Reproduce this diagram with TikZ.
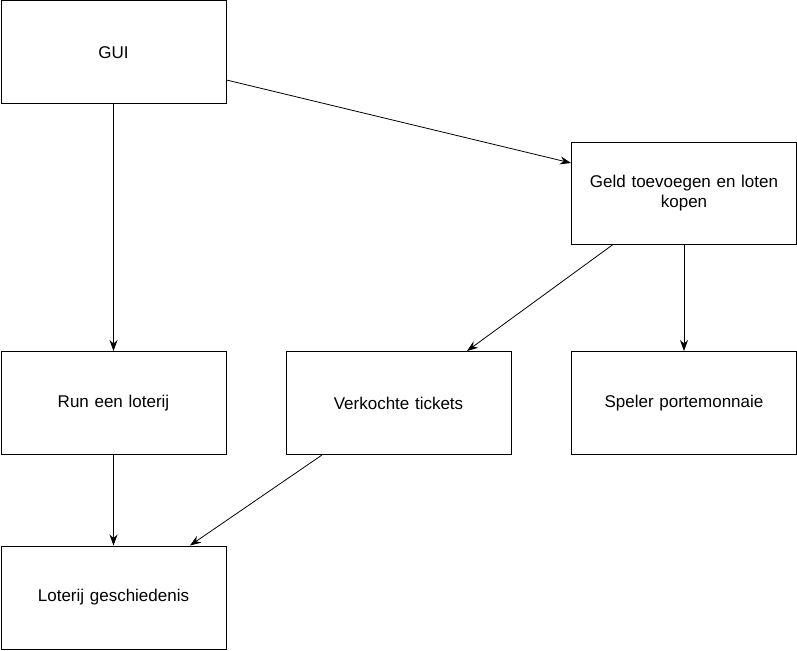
\documentclass[tikz,border=0pt]{standalone}
\usepackage{fontspec}
\setmainfont{Liberation Sans}
\usepackage{tikz}
\usetikzlibrary{arrows.meta, positioning, calc}

\tikzset{
  blok/.style={draw=black, line width=1pt, minimum width=225pt, minimum height=103pt,
    text width=212pt, align=center, inner sep=0pt, font=\fontsize{17}{20}\selectfont},
  pijl/.style={-{Stealth[length=11pt, width=8pt]}, line width=0.8pt}
}

\begin{document}
\begin{tikzpicture}[x=1pt, y=-1pt]
  \useasboundingbox (0,0) rectangle (797,650);

  \node[blok] (gui) at (113.5,52.5) {GUI};
  \node[blok, minimum height=102pt] (geld) at (684,193) {Geld toevoegen en loten\\kopen};
  \node[blok] (run) at (113.5,403) {Run een loterij};
  \node[blok] (verkocht) at (398.5,403) {Verkochte tickets};
  \node[blok] (speler) at (684,403) {Speler portemonnaie};
  \node[blok] (historie) at (113.5,597.5) {Loterij geschiedenis};

  \draw[pijl] (gui) -- (run);
  \draw[pijl] ([yshift=-27.5pt]gui.east) -- ([yshift=30pt]geld.west);
  \draw[pijl] ([xshift=-71pt]geld.south) -- ([xshift=68.5pt]verkocht.north);
  \draw[pijl] (geld.south) -- (speler.north);
  \draw[pijl] (run) -- (historie);
  \draw[pijl] ([xshift=-76.5pt]verkocht.south) -- ([xshift=76.5pt]historie.north);
\end{tikzpicture}
\end{document}
